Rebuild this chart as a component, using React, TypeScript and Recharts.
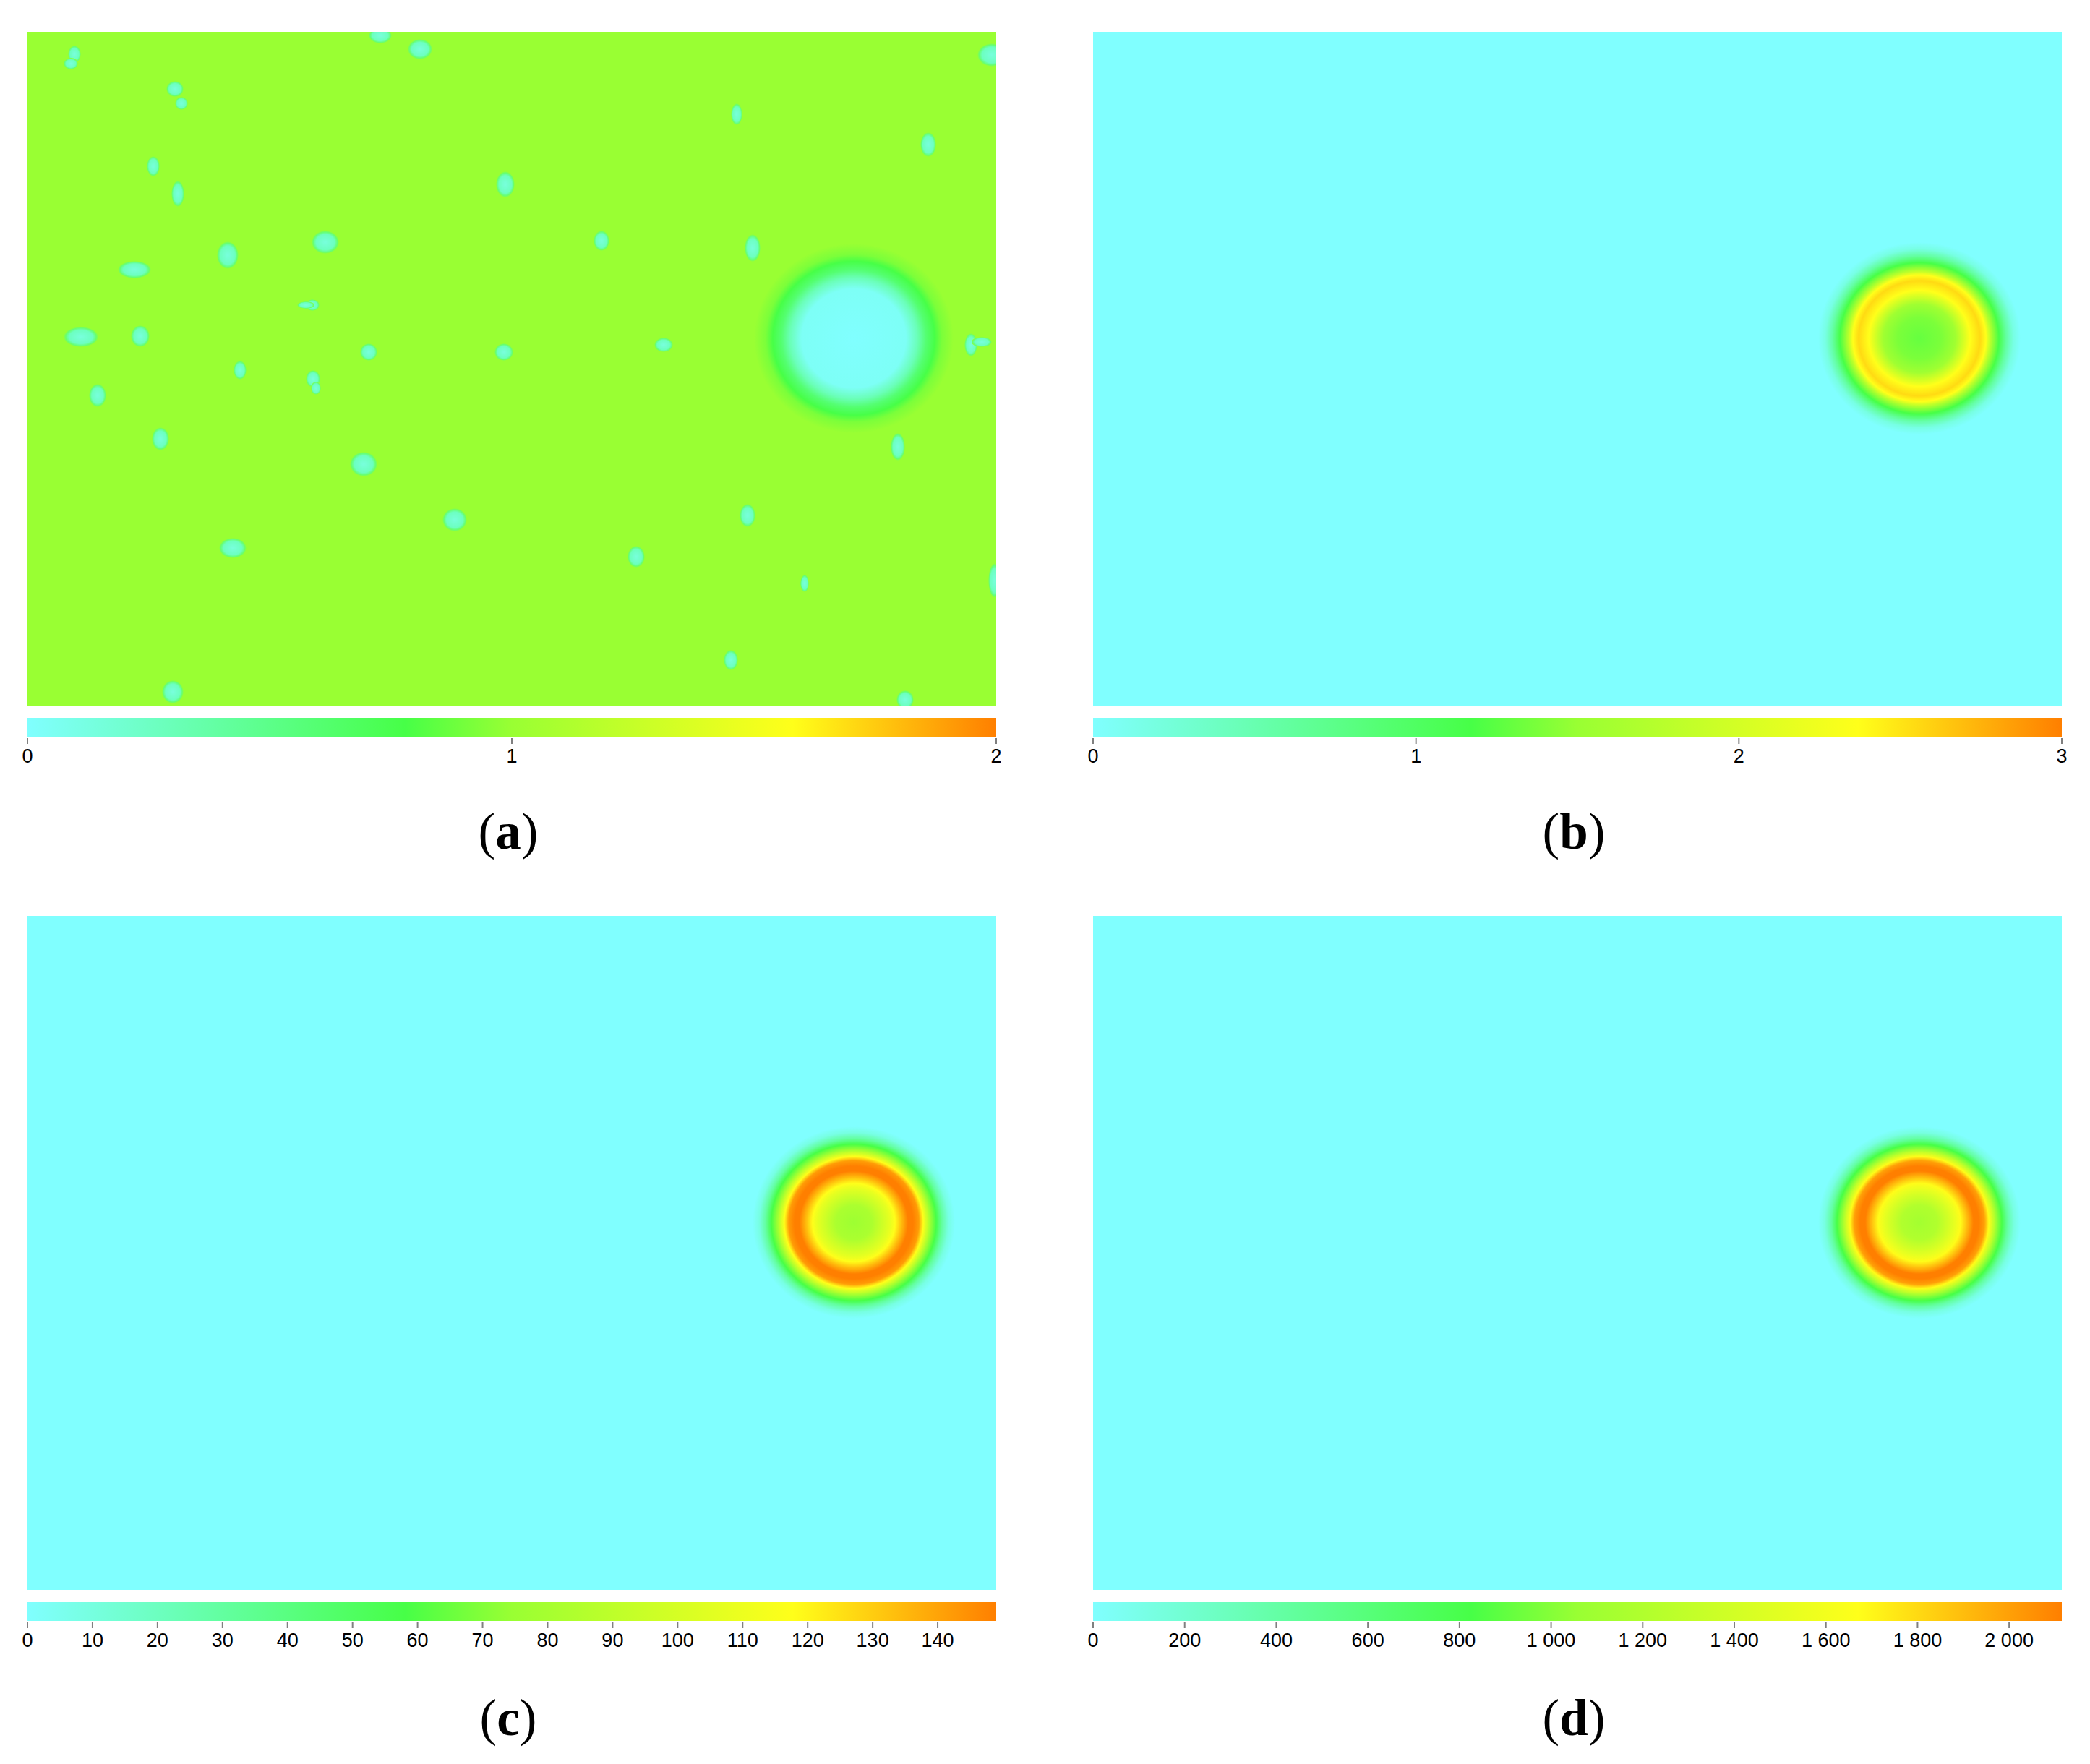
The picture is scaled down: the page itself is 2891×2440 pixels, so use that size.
import { Area, AreaChart, CartesianGrid, Scatter, ScatterChart, XAxis, YAxis } from "recharts";

const MAP_W = 1340;
const MAP_H = 933;
const SPOT_PAD = 2;

// colormap of the colour bars, position along the bar (0..1)
const colorFractions = [0, 0.39, 0.5, 0.79, 1];
const colorValues = ["#80ffff", "#47ff47", "#99ff33", "#ffff1a", "#ff7f00"];

const ticksA = [0, 1, 2];
const ticksB = [0, 1, 2, 3];
const ticksC = [0, 10, 20, 30, 40, 50, 60, 70, 80, 90, 100, 110, 120, 130, 140];
const ticksD = [0, 200, 400, 600, 800, 1000, 1200, 1400, 1600, 1800, 2000];

// radial profiles of the hot spot, radius in map px -> field value
const radiusA = [0, 72, 88, 100, 112, 122, 138];
const valuesA = [0, 0.04, 0.3, 0.6, 0.78, 0.92, 1];
const radiusB = [0, 30, 50, 62, 70, 84, 92, 98, 110, 120, 130, 140];
const valuesB = [1.29, 1.38, 1.56, 2.04, 2.37, 2.55, 2.37, 1.8, 1.17, 0.6, 0.18, 0];
const radiusC = [0, 25, 40, 50, 57, 66, 75, 82, 90, 96, 103, 114, 122, 131, 140];
const valuesC = [76, 82, 97, 107, 118, 134, 149, 149, 142, 118, 89, 58, 30, 9, 0];
const radiusD = [0, 25, 40, 50, 57, 66, 75, 82, 90, 96, 103, 114, 122, 131, 140];
const valuesD = [1120, 1200, 1400, 1550, 1680, 1900, 2115, 2115, 2000, 1680, 1280, 825, 420, 130, 0];

// small spots of panel (a): x, y, rx, ry in map px
const spotsA = [
  [65, 31, 7, 10], [60, 44, 8, 6], [204, 79, 10, 9], [213, 99, 7, 7], [174, 186, 7, 12],
  [208, 224, 7, 16], [412, 291, 17, 14], [277, 309, 13, 17], [488, 5, 14, 9], [148, 329, 21, 10],
  [394, 378, 8, 6], [385, 378, 10, 3], [74, 422, 22, 12], [156, 421, 11, 13], [472, 443, 10, 10],
  [294, 468, 7, 11], [395, 480, 8, 10], [399, 493, 5, 7], [97, 503, 10, 14], [184, 563, 10, 14],
  [465, 598, 17, 15], [284, 714, 17, 12], [201, 913, 13, 14], [543, 24, 15, 12], [1334, 32, 18, 14],
  [981, 114, 6, 13], [1246, 156, 9, 15], [661, 211, 11, 16], [794, 289, 9, 12], [1003, 299, 9, 17],
  [1204, 574, 8, 17], [591, 675, 15, 14], [996, 669, 9, 14], [842, 726, 10, 13], [1075, 763, 4, 10],
  [1338, 759, 7, 22], [973, 869, 8, 12], [1214, 924, 10, 11], [1305, 433, 7, 14], [1320, 429, 12, 5],
  [659, 443, 11, 10], [880, 433, 11, 8],
];

const hexToRgb = (hex: string) => [1, 3, 5].map((i) => parseInt(hex.slice(i, i + 2), 16));

function colorAt(f: number) {
  let i = 0;
  while (i < colorFractions.length - 2 && f > colorFractions[i + 1]) i++;
  const t = Math.min(1, Math.max(0, (f - colorFractions[i]) / (colorFractions[i + 1] - colorFractions[i])));
  const a = hexToRgb(colorValues[i]);
  const b = hexToRgb(colorValues[i + 1]);
  const c = a.map((v, k) => Math.round(v + (b[k] - v) * t));
  return `rgb(${c.join(",")})`;
}

const spotShape = (fill: string, pad = 0) => (props: any) => (
  <ellipse cx={props.cx} cy={props.cy} rx={props.payload.rx + pad} ry={props.payload.ry + pad} fill={fill} />
);

function FieldMap({ id, background, radius, values, max, spots }: any) {
  const last = radius[radius.length - 1];
  const hotSpot = [{ x: 1143, y: 424, rx: last, ry: last * 0.95 }];
  const spotData = (spots ?? []).map((s: number[]) => ({ x: s[0], y: s[1], rx: s[2], ry: s[3] }));
  return (
    <ScatterChart width={MAP_W} height={MAP_H} margin={{ top: 0, right: 0, bottom: 0, left: 0 }}>
      <defs>
        <radialGradient id={`hot-${id}`}>
          {radius.map((r: number, i: number) => (
            <stop key={i} offset={r / last} stopColor={colorAt(values[i] / max)} />
          ))}
        </radialGradient>
        <radialGradient id={`spot-${id}`}>
          <stop offset={0} stopColor="#78ffdc" />
          <stop offset={0.68} stopColor="#6cffc0" />
          <stop offset={0.88} stopColor="#66ff70" />
          <stop offset={1} stopColor={background} />
        </radialGradient>
      </defs>
      <CartesianGrid horizontal={false} vertical={false} fill={background} fillOpacity={1} stroke="none" />
      <XAxis type="number" dataKey="x" domain={[0, MAP_W]} hide />
      <YAxis type="number" dataKey="y" domain={[0, MAP_H]} reversed hide />
      <Scatter data={hotSpot} isAnimationActive={false} shape={spotShape(`url(#hot-${id})`)} />
      {spotData.length > 0 && (
        <Scatter data={spotData} isAnimationActive={false} shape={spotShape(`url(#spot-${id})`, SPOT_PAD)} />
      )}
    </ScatterChart>
  );
}

const formatTick = (v: number) => String(v).replace(/\B(?=(\d{3})+$)/g, " ");

function ColorBar({ id, max, ticks }: { id: string; max: number; ticks: number[] }) {
  const band = [
    { x: 0, y: 14 },
    { x: max, y: 14 },
  ];
  return (
    <AreaChart width={MAP_W + 80} height={86} data={band} margin={{ top: 0, right: 40, bottom: 0, left: 40 }}>
      <defs>
        <linearGradient id={`bar-${id}`} x1="0" y1="0" x2="1" y2="0">
          {colorFractions.map((f, i) => (
            <stop key={i} offset={f} stopColor={colorValues[i]} />
          ))}
        </linearGradient>
      </defs>
      <XAxis
        type="number"
        dataKey="x"
        domain={[0, max]}
        ticks={ticks}
        interval={0}
        height={58}
        axisLine={false}
        tickLine={{ stroke: "#808080", strokeWidth: 2 }}
        tickSize={8}
        tickMargin={7}
        tickFormatter={formatTick}
        tick={{ fill: "#000", fontSize: 27, fontFamily: "Liberation Sans" }}
      />
      <YAxis type="number" domain={[0, 14]} hide />
      <Area
        dataKey="y"
        type="linear"
        baseValue={1}
        stroke="none"
        fill={`url(#bar-${id})`}
        fillOpacity={1}
        isAnimationActive={false}
        dot={false}
      />
    </AreaChart>
  );
}

function Panel({ id, left, top, background, radius, values, max, ticks, spots, captionTop }: any) {
  return (
    <>
      <div style={{ position: "absolute", left, top }}>
        <FieldMap id={id} background={background} radius={radius} values={values} max={max} spots={spots} />
      </div>
      <div style={{ position: "absolute", left: left - 40, top: top + MAP_H + 16 }}>
        <ColorBar id={id} max={max} ticks={ticks} />
      </div>
      <div
        style={{
          position: "absolute",
          left: left + MAP_W / 2 - 70,
          top: captionTop,
          width: 130,
          textAlign: "center",
          font: "71px 'Liberation Serif'",
          lineHeight: "80px",
          color: "#000",
        }}
      >
        (<b>{id}</b>)
      </div>
    </>
  );
}

export default function App() {
  return (
    <div style={{ position: "absolute", left: 0, top: 0, width: 2891, height: 2440, background: "#fff", overflow: "hidden" }}>
      <Panel id="a" left={38} top={44} background="#99ff33" radius={radiusA} values={valuesA} max={2} ticks={ticksA} spots={spotsA} captionTop={1110} />
      <Panel id="b" left={1512} top={44} background="#80ffff" radius={radiusB} values={valuesB} max={3} ticks={ticksB} captionTop={1110} />
      <Panel id="c" left={38} top={1267} background="#80ffff" radius={radiusC} values={valuesC} max={149} ticks={ticksC} captionTop={2336} />
      <Panel id="d" left={1512} top={1267} background="#80ffff" radius={radiusD} values={valuesD} max={2115} ticks={ticksD} captionTop={2336} />
    </div>
  );
}
